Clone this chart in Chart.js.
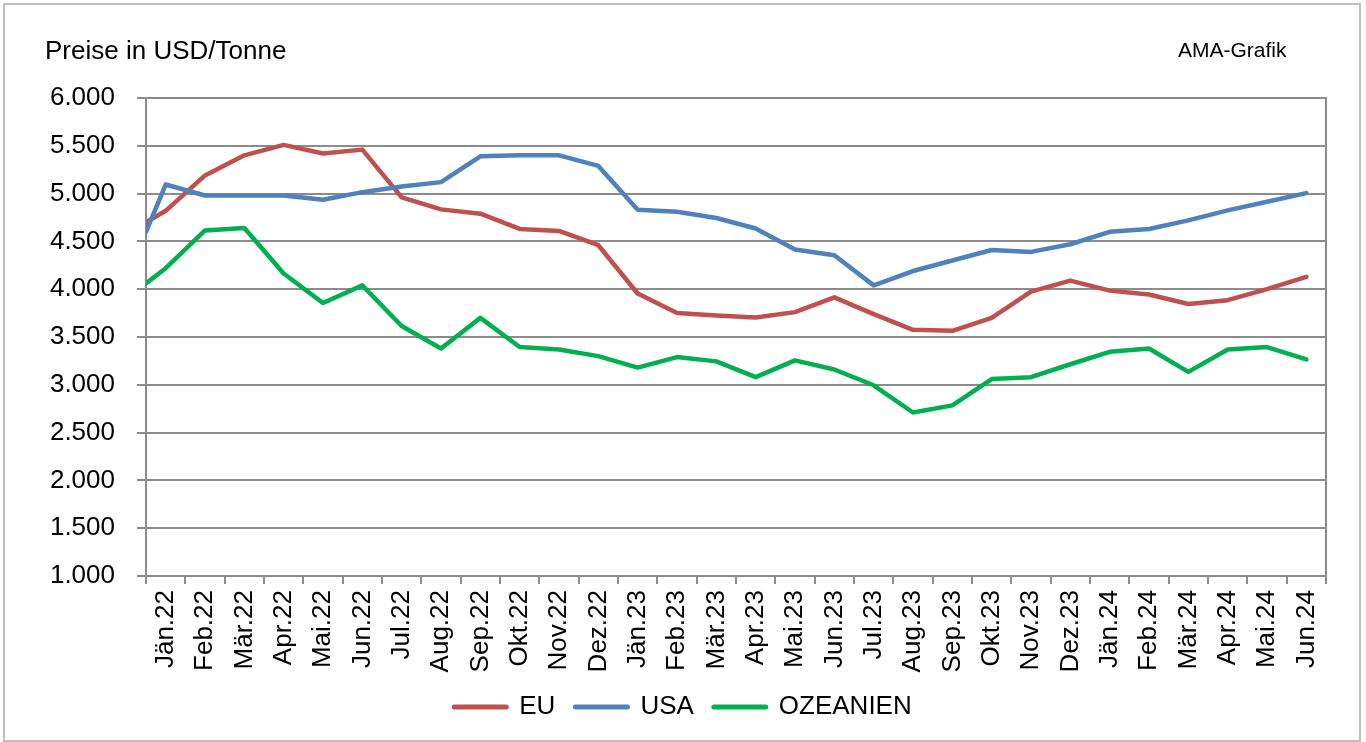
<!DOCTYPE html>
<html>
<head>
<meta charset="utf-8">
<script src="https://cdn.jsdelivr.net/npm/chart.js@4.4.1/dist/chart.umd.min.js"></script>
<style>
  html, body { margin: 0; padding: 0; background: #fff; }
  canvas { display: block; }
</style>
</head>
<body>
<canvas id="milkChart" width="1366" height="742"></canvas>
<script>
// monthly labels on the x axis
const months = [
    'Jän.22','Feb.22','Mär.22','Apr.22','Mai.22','Jun.22','Jul.22','Aug.22','Sep.22','Okt.22','Nov.22','Dez.22',
    'Jän.23','Feb.23','Mär.23','Apr.23','Mai.23','Jun.23','Jul.23','Aug.23','Sep.23','Okt.23','Nov.23','Dez.23',
    'Jän.24','Feb.24','Mär.24','Apr.24','Mai.24','Jun.24'
];

// first value sits at the start of the axis, then one value per month
const euPrices = [4700, 4820, 5190, 5400, 5510, 5420, 5460, 4960, 4835, 4790, 4630, 4610, 4460,
    3955, 3750, 3725, 3705, 3760, 3915, 3740, 3575, 3565, 3700, 3975, 4090,
    3985, 3945, 3845, 3885, 4000, 4130];
const usaPrices = [4600, 5095, 4980, 4980, 4980, 4935, 5015, 5075, 5120, 5390, 5400, 5400, 5290,
    4830, 4810, 4745, 4635, 4415, 4355, 4040, 4190, 4300, 4410, 4390, 4470,
    4600, 4630, 4720, 4825, 4915, 5005];
const ozPrices = [4060, 4220, 4615, 4640, 4165, 3855, 4040, 3615, 3380, 3700, 3395, 3370, 3300,
    3180, 3290, 3245, 3080, 3255, 3160, 2995, 2710, 2785, 3060, 3080, 3215,
    3345, 3380, 3135, 3370, 3395, 3265];

const yTicks = [1000, 1500, 2000, 2500, 3000, 3500, 4000, 4500, 5000, 5500, 6000];

// x position of each value (axis start, then month centers)
const xPos = [-0.5].concat(months.map((m, i) => i));

const gridColor = '#8c8c8c';
Chart.defaults.font.family = '"Liberation Sans", Arial, sans-serif';
Chart.defaults.color = '#000';

function toPoints(values) {
    return values.map((v, i) => ({ x: xPos[i], y: v }));
}

// 6000 -> "6.000"
function formatThousands(v) {
    const s = String(Math.round(v));
    return s.replace(/\B(?=(\d{3})+(?!\d))/g, '.');
}

const framePlugin = {
    id: 'frame',
    beforeDraw(chart) {
        const ctx = chart.ctx;
        ctx.save();
        ctx.fillStyle = '#fff';
        ctx.fillRect(0, 0, chart.width, chart.height);
        ctx.strokeStyle = '#bfbfbf';
        ctx.lineWidth = 2;
        ctx.strokeRect(4, 4, 1356, 737);
        ctx.fillStyle = '#000';
        ctx.textBaseline = 'alphabetic';
        ctx.font = '26px "Liberation Sans", Arial, sans-serif';
        ctx.fillText('Preise in USD/Tonne', 45, 59);
        ctx.font = '21px "Liberation Sans", Arial, sans-serif';
        ctx.fillText('AMA-Grafik', 1178, 57);
        ctx.restore();
    }
};

const canvas = document.getElementById('milkChart');

new Chart(canvas.getContext('2d'), {
    type: 'line',
    data: {
        datasets: [
            { label: 'EU', data: toPoints(euPrices), borderColor: '#c0504d', backgroundColor: '#c0504d', order: 3 },
            { label: 'USA', data: toPoints(usaPrices), borderColor: '#4f81bd', backgroundColor: '#4f81bd', order: 2 },
            { label: 'OZEANIEN', data: toPoints(ozPrices), borderColor: '#00b050', backgroundColor: '#00b050', order: 1 }
        ]
    },
    options: {
        responsive: false,
        animation: false,
        layout: { padding: { top: 98, left: 40, right: 40, bottom: 12 } },
        elements: {
            line: { borderWidth: 4.5, tension: 0, fill: false, borderCapStyle: 'round', borderJoinStyle: 'round' },
            point: { radius: 0, hoverRadius: 0 }
        },
        scales: {
            x: {
                type: 'linear',
                min: -0.5,
                max: months.length - 0.5,
                afterBuildTicks: scale => {
                    scale.ticks = months.map((m, i) => ({ value: i }));
                },
                afterFit: scale => { scale.height = 98; },
                ticks: {
                    callback: v => months[v],
                    autoSkip: false,
                    minRotation: 90,
                    maxRotation: 90,
                    padding: 6,
                    font: { size: 26 }
                },
                grid: { offset: true, drawOnChartArea: false, drawTicks: true, tickLength: 8, color: gridColor, lineWidth: 2 },
                border: { color: gridColor, width: 2 }
            },
            y: {
                min: 1000,
                max: 6000,
                afterBuildTicks: scale => {
                    scale.ticks = yTicks.map(v => ({ value: v }));
                },
                afterFit: scale => { scale.width = 106; },
                ticks: { callback: v => formatThousands(v), padding: 22, font: { size: 26 } },
                grid: { color: gridColor, lineWidth: 2, tickLength: 9 },
                border: { color: gridColor, width: 2 }
            },
            yRight: {
                position: 'right',
                min: 1000,
                max: 6000,
                afterFit: scale => { scale.width = 0; },
                ticks: { display: false },
                grid: { display: false },
                border: { color: gridColor, width: 2 }
            }
        },
        plugins: {
            legend: {
                position: 'bottom',
                labels: {
                    usePointStyle: true,
                    pointStyle: 'line',
                    pointStyleWidth: 52,
                    padding: 20,
                    font: { size: 26 },
                    sort: (a, b) => a.datasetIndex - b.datasetIndex,
                    generateLabels: chart => {
                        const items = Chart.defaults.plugins.legend.labels.generateLabels(chart);
                        items.forEach(item => {
                            const ds = chart.data.datasets[item.datasetIndex];
                            item.strokeStyle = ds.borderColor;
                            item.lineWidth = 5;
                            item.lineCap = 'round';
                        });
                        return items;
                    }
                }
            },
            tooltip: { enabled: false }
        }
    },
    plugins: [framePlugin]
});
</script>
</body>
</html>
